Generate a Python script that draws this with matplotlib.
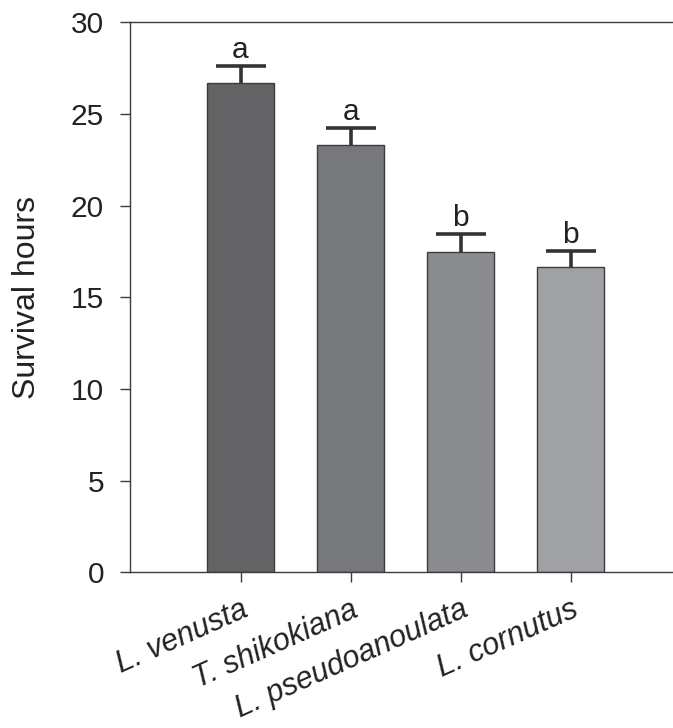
import matplotlib
matplotlib.use("Agg")
import matplotlib.pyplot as plt

species = ["L. venusta", "T. shikokiana", "L. pseudoanoulata", "L. cornutus"]
means = [26.68, 23.32, 17.45, 16.63]
errors = [0.94, 0.92, 1.0, 0.9]
letters = ["a", "a", "b", "b"]
colors = ["#636365", "#77787b", "#8b8c8f", "#a0a1a4"]

plt.rcParams['font.family'] = ['Liberation Sans', 'DejaVu Sans']
FS = 21.5
FS_X = 22
FS_LAB = 23

fig = plt.figure(figsize=(6.73, 7.28), dpi=100)
ax = fig.add_axes([0.1939, 0.2139, 0.8061, 0.7555])

x = list(range(1, len(species) + 1))
ax.bar(x, means, width=0.605, color=colors, edgecolor="#3c3c3c", linewidth=1.0, zorder=2)
eb = ax.errorbar(x, means, yerr=[[0] * len(means), errors], fmt="none",
                 ecolor="#333333", elinewidth=2.6, capsize=18, capthick=2.6, zorder=3)
# hide lower caps (only upper error shown)
eb[1][0].set_visible(False)
for xi, m, e, lab in zip(x, means, errors, letters):
    ax.annotate(lab, (xi, m + e), xytext=(0, 1.5), textcoords="offset points",
                ha="center", va="bottom", fontsize=FS, color="#222222")

ax.set_xlim(0, 4.93)
ax.set_ylim(0, 30)
ax.set_yticks([0, 5, 10, 15, 20, 25, 30])
ax.set_xticks(x)
ax.set_xticklabels(species, rotation=24, ha="right", rotation_mode="anchor",
                   fontstyle="italic", fontsize=FS_X, color="#222222")
ax.tick_params(axis="y", labelsize=FS, labelcolor="#222222", length=7, width=1.0,
               color="#3c3c3c", direction="out", pad=12)
ax.tick_params(axis="x", length=7, width=1.0, color="#3c3c3c", direction="out", pad=9)
ax.set_ylabel("Survival hours", fontsize=FS_LAB, color="#222222", labelpad=21)

for s in ["left", "top", "bottom"]:
    ax.spines[s].set_color("#3c3c3c")
    ax.spines[s].set_linewidth(1.0)
ax.spines["right"].set_visible(False)

fig.savefig("out.png", dpi=100)
